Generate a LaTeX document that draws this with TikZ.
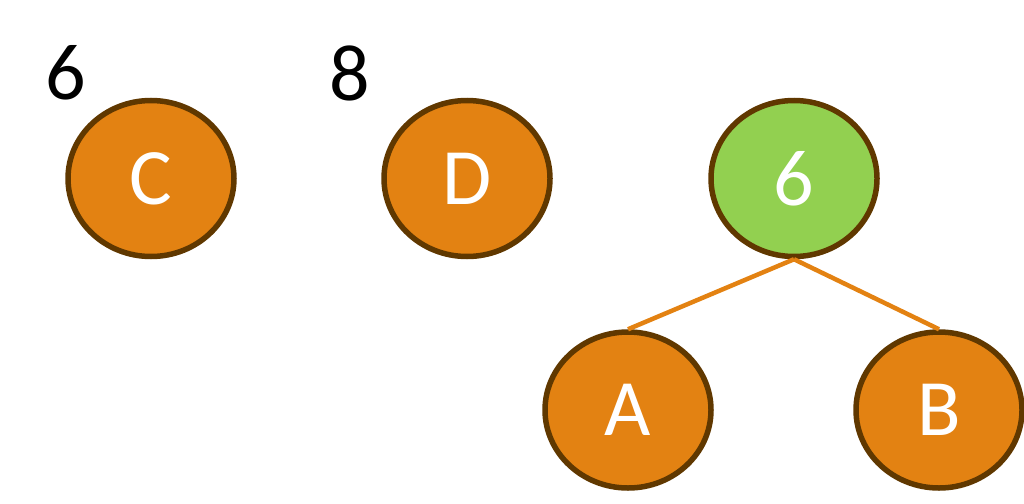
\documentclass[tikz,border=0pt]{standalone}
\usepackage{fontspec}
\setmainfont{Carlito}
\usetikzlibrary{shapes.geometric}
\definecolor{nodeorange}{RGB}{227,130,18}
\definecolor{nodegreen}{RGB}{146,208,80}
\definecolor{nodeborder}{RGB}{96,56,0}
\tikzset{
  treenode/.style={ellipse, draw=nodeborder, line width=5.5pt, fill=nodeorange,
    minimum width=166pt, minimum height=156pt, inner sep=0pt,
    text=white, font=\fontsize{80}{84}\selectfont},
  rootnode/.style={treenode, fill=nodegreen},
  weight/.style={text=black, font=\fontsize{80}{84}\selectfont, inner sep=0pt},
  edge/.style={draw=nodeorange, line width=4.5pt}
}
\begin{document}
\begin{tikzpicture}[x=1pt,y=-1pt]
\useasboundingbox (0,0) rectangle (1024,503);
\node[treenode] (C) at (151,178.5) {C};
\node[treenode] (D) at (467,178.5) {D};
\node[rootnode] (R) at (794,178.5) {6};
\node[treenode] (A) at (628,410) {A};
\node[treenode] (B) at (939,410) {B};
\node[weight] (wC) at (66,73) {6};
\node[weight] (wD) at (350,73) {8};
\draw[edge] (R.south) -- (A.north);
\draw[edge] (R.south) -- (B.north);
\end{tikzpicture}
\end{document}
